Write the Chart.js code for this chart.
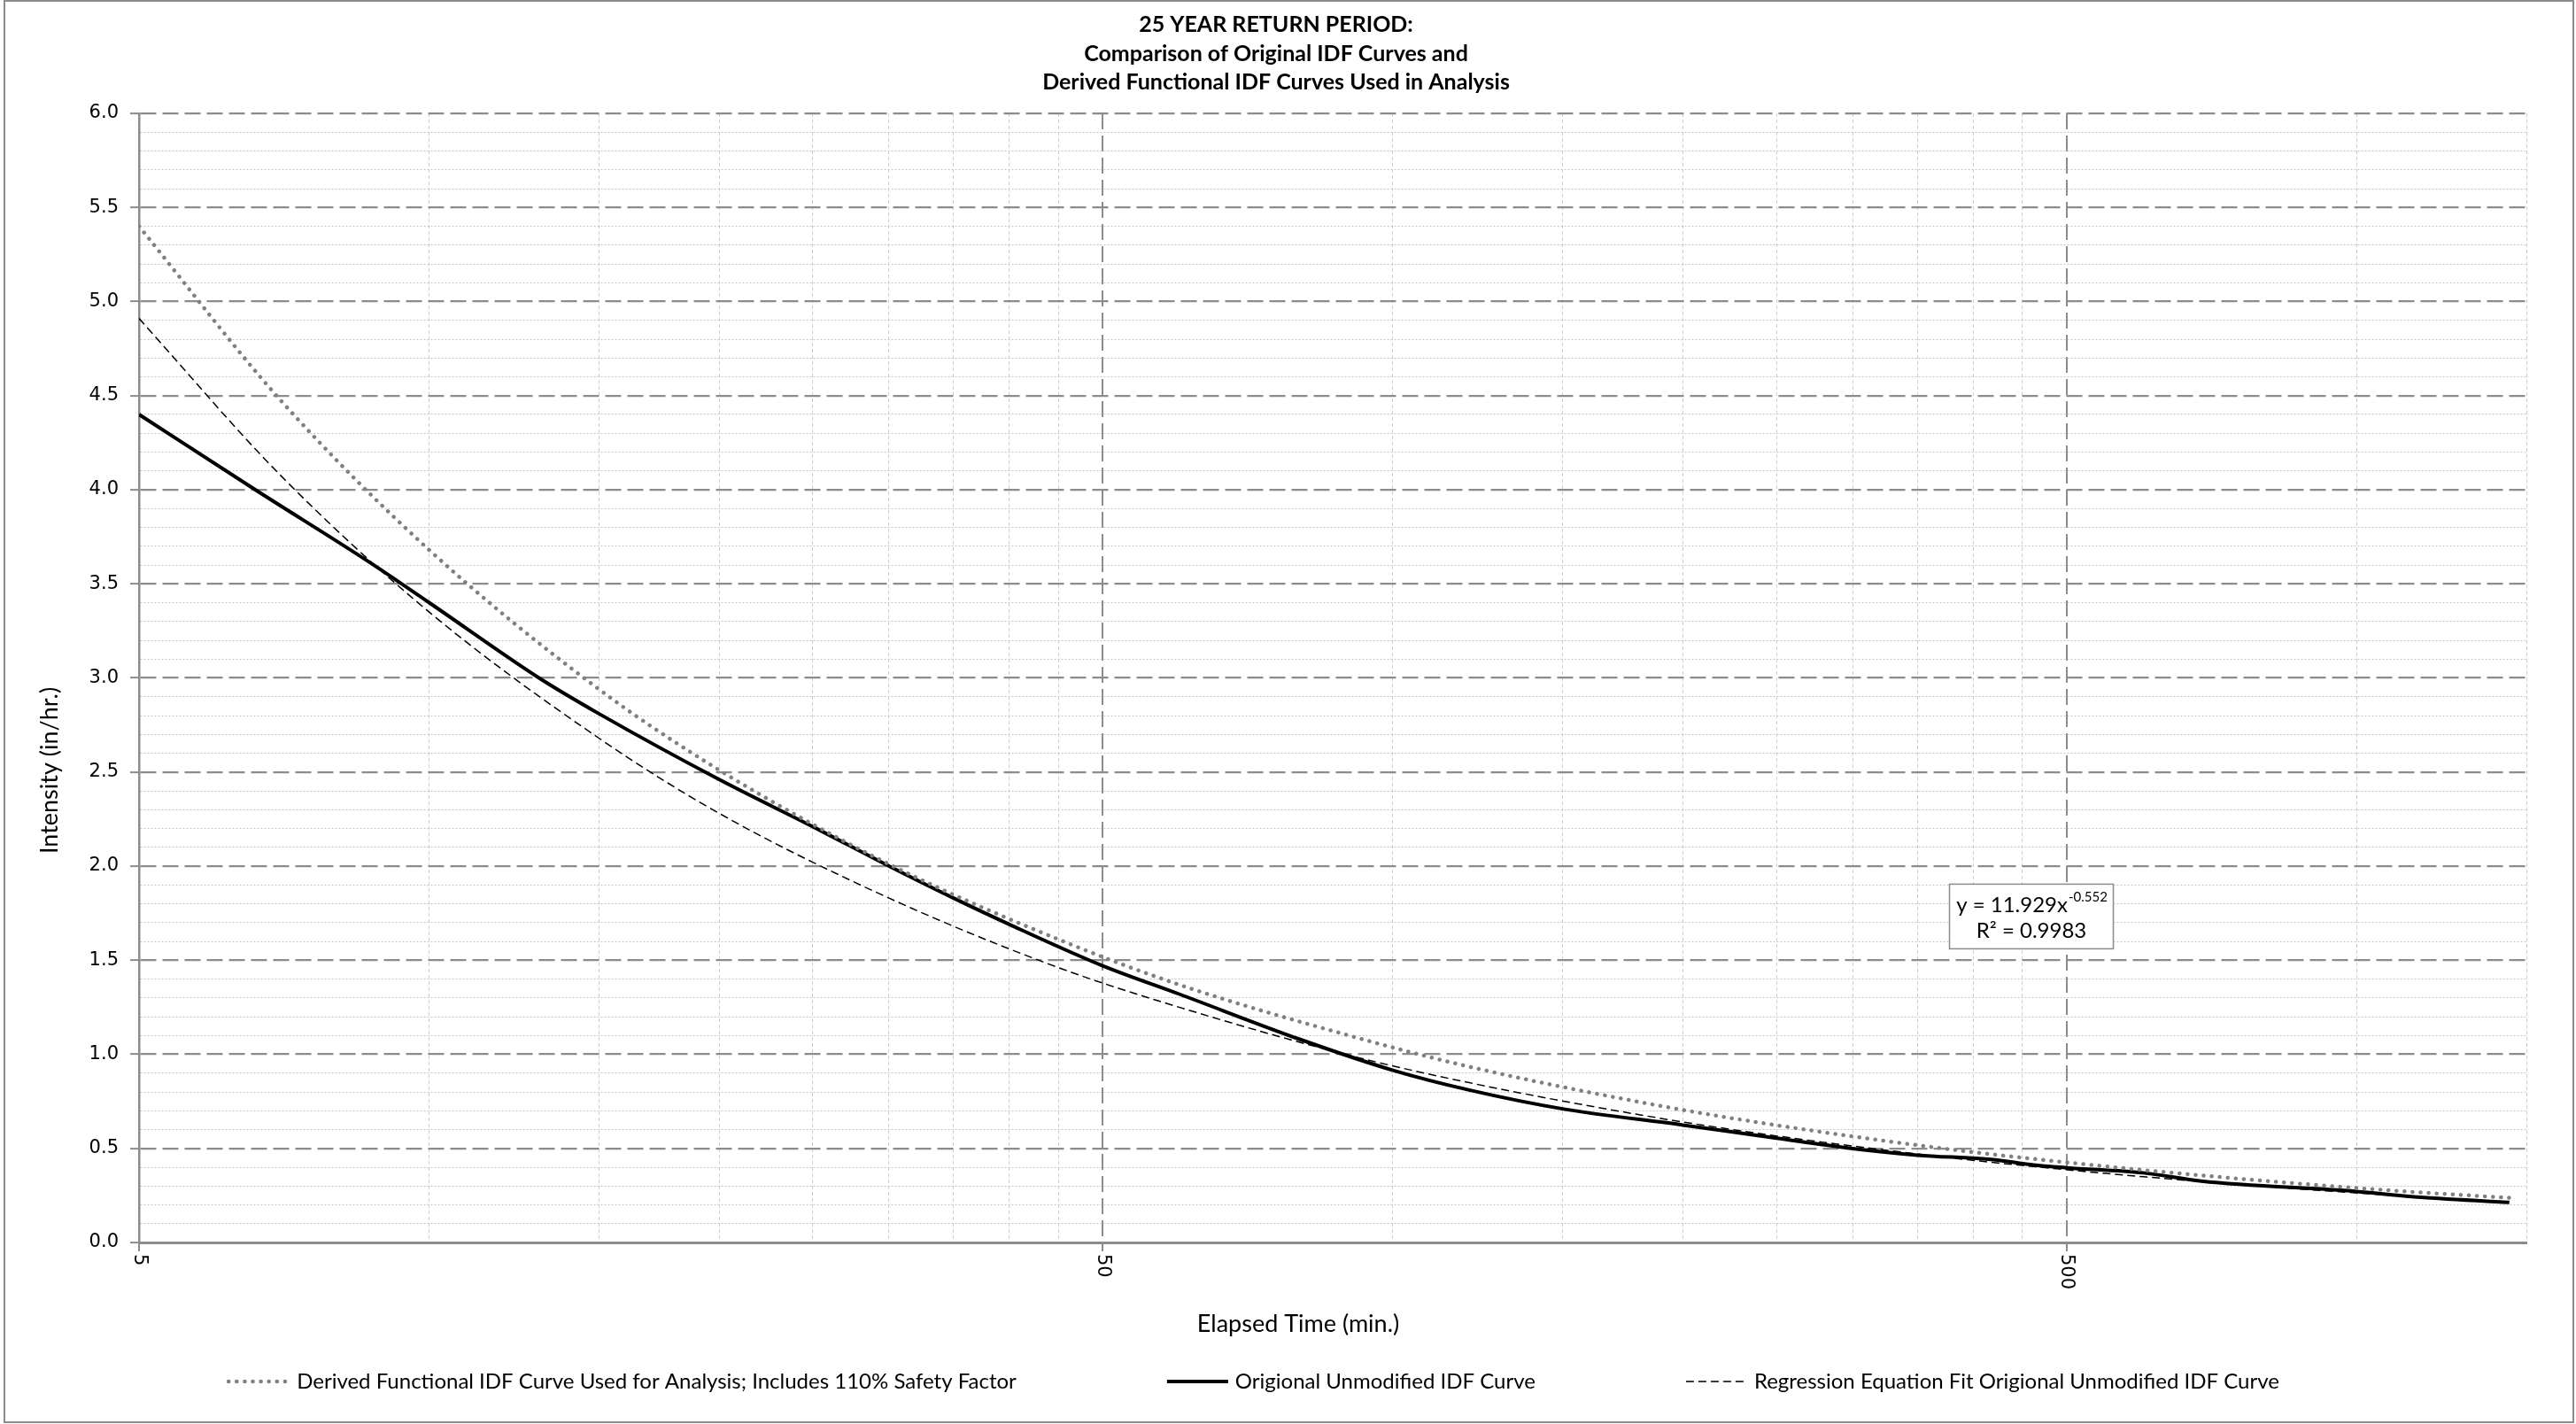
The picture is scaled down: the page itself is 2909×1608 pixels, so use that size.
<!DOCTYPE html>
<html>
<head>
<meta charset="utf-8">
<title>25 Year Return Period IDF Curves</title>
<script src="https://cdn.jsdelivr.net/npm/chart.js@4.4.1/dist/chart.umd.min.js"></script>
<style>
  html, body { margin: 0; padding: 0; background: #fff; }
  canvas { display: block; }
</style>
</head>
<body>
<canvas id="idf" width="2909" height="1608"></canvas>
<script>
// elapsed time (min.) for the smooth fitted curves
const fitTimes = [5, 7, 10, 15, 20, 30, 45, 60, 90, 120, 180, 240, 360, 480, 720, 1080, 1440];
// intensity (in/hr.) - derived curve with 110% safety factor
const derivedIntensity = [5.40, 4.48, 3.68, 2.94, 2.51, 2.01, 1.61, 1.37, 1.10, 0.934, 0.747, 0.637, 0.509, 0.435, 0.348, 0.277, 0.237];
// intensity (in/hr.) - regression fit y = 11.929x^-0.552
const regressionIntensity = [4.91, 4.08, 3.35, 2.68, 2.28, 1.83, 1.46, 1.25, 0.995, 0.849, 0.679, 0.579, 0.463, 0.395, 0.316, 0.252, 0.215];

// original IDF table
const originalTimes = [5, 6.6, 8.7, 10, 13, 15, 20, 25, 30, 35, 40, 50, 60, 80, 100, 120, 150, 200, 250, 300, 350, 420, 460, 500, 600, 690, 1000, 1140, 1440];
const originalIntensity = [4.40, 4.00, 3.61, 3.40, 3.00, 2.81, 2.46, 2.21, 2.00, 1.83, 1.69, 1.47, 1.32, 1.08, 0.915, 0.81, 0.71, 0.624, 0.554, 0.499, 0.464, 0.440, 0.413, 0.397, 0.370, 0.326, 0.271, 0.244, 0.213];

// x axis: labelled decades and the in-between gridlines
const majorTimes = [5, 50, 500];
const minorTimes = [10, 15, 20, 25, 30, 35, 40, 45, 100, 150, 200, 250, 300, 350, 400, 450, 1000, 1500];

const titleLines = [
  "25 YEAR RETURN PERIOD:",
  "Comparison of Original IDF Curves and",
  "Derived Functional IDF Curves Used in Analysis",
];
const seriesLabels = [
  "Derived Functional IDF Curve Used for Analysis; Includes 110% Safety Factor",
  "Origional Unmodified IDF Curve",
  "Regression Equation Fit Origional Unmodified IDF Curve",
];
const equationText = { main: "y = 11.929x", power: "-0.552", r2: "R\u00b2 = 0.9983" };

const FONT = "Lato, 'Open Sans', sans-serif";
const TICK_FONT = "'DejaVu Sans', Verdana, sans-serif";
const MAJOR = "#8c8c8c";

const toPoints = (xs, ys) => xs.map((x, i) => ({ x: x, y: ys[i] }));
const isHalf = (v) => Math.abs(v * 2 - Math.round(v * 2)) < 1e-6;
const isMajorTime = (v) => majorTimes.includes(v);

// titles, rotated x labels, trendline label, legend and outer frame
const decorations = {
  id: "decorations",
  beforeDraw(chart) {
    const ctx = chart.ctx;
    ctx.save();
    ctx.fillStyle = "#fff";
    ctx.fillRect(0, 0, chart.width, chart.height);
    ctx.restore();
  },
  afterDraw(chart) {
    const { ctx, chartArea } = chart;
    const xs = chart.scales.x;
    const ys = chart.scales.y;
    ctx.save();
    ctx.fillStyle = "#000";

    // x tick labels, reading top to bottom
    ctx.font = "21px " + TICK_FONT;
    ctx.textAlign = "left";
    ctx.textBaseline = "middle";
    majorTimes.forEach((v) => {
      ctx.save();
      ctx.translate(xs.getPixelForValue(v), chartArea.bottom + 13);
      ctx.rotate(Math.PI / 2);
      ctx.fillText(String(v), 0, 0);
      ctx.restore();
    });

    // axis titles
    ctx.textAlign = "center";
    ctx.font = "27px " + FONT;
    ctx.fillText("Elapsed Time (min.)", 1466, 1495);
    ctx.save();
    ctx.translate(56, 870);
    ctx.rotate(-Math.PI / 2);
    ctx.fillText("Intensity (in/hr.)", 0, 0);
    ctx.restore();

    // trendline equation box
    const bx = xs.getPixelForValue(378);
    const by = ys.getPixelForValue(1.904);
    const bw = 185, bh = 73;
    ctx.fillStyle = "#fff";
    ctx.fillRect(bx, by, bw, bh);
    ctx.strokeStyle = MAJOR;
    ctx.lineWidth = 1.5;
    ctx.strokeRect(bx, by, bw, bh);
    ctx.fillStyle = "#000";
    ctx.font = "24px " + FONT;
    const mainW = ctx.measureText(equationText.main).width;
    ctx.font = "15px " + FONT;
    const powW = ctx.measureText(equationText.power).width;
    let tx = bx + bw / 2 - (mainW + powW) / 2;
    ctx.textAlign = "left";
    ctx.font = "24px " + FONT;
    ctx.fillText(equationText.main, tx, by + 24);
    ctx.font = "15px " + FONT;
    ctx.fillText(equationText.power, tx + mainW + 1, by + 15);
    ctx.textAlign = "center";
    ctx.font = "24px " + FONT;
    ctx.fillText(equationText.r2, bx + bw / 2, by + 53);

    // legend
    const sample = 69, gap = 8, spacing = 170, ly = 1560;
    ctx.font = "24px " + FONT;
    const items = chart.data.datasets.map((ds) => ({ ds: ds, w: sample + gap + ctx.measureText(ds.label).width }));
    const total = items.reduce((s, it) => s + it.w, 0) + spacing * (items.length - 1);
    let lx = 1416 - total / 2;
    ctx.textAlign = "left";
    items.forEach((it) => {
      const ds = it.ds;
      ctx.save();
      ctx.strokeStyle = ds.borderColor;
      ctx.lineWidth = ds.borderWidth;
      ctx.lineCap = ds.borderCapStyle || "butt";
      ctx.setLineDash(ds.borderDash || []);
      ctx.beginPath();
      ctx.moveTo(lx, ly);
      ctx.lineTo(lx + sample, ly);
      ctx.stroke();
      ctx.restore();
      ctx.fillText(ds.label, lx + sample + gap, ly);
      lx += it.w + spacing;
    });

    // chart frame
    ctx.strokeStyle = MAJOR;
    ctx.lineWidth = 2;
    ctx.strokeRect(5, 1, chart.width - 8, chart.height - 3);
    ctx.restore();
  },
};

new Chart(document.getElementById("idf"), {
  type: "scatter",
  data: {
    datasets: [
      {
        label: seriesLabels[0],
        data: toPoints(fitTimes, derivedIntensity),
        showLine: true,
        borderColor: "#808080",
        borderWidth: 4.5,
        borderDash: [0.1, 9],
        borderCapStyle: "round",
        pointRadius: 0,
        cubicInterpolationMode: "monotone",
      },
      {
        label: seriesLabels[1],
        data: toPoints(originalTimes, originalIntensity),
        showLine: true,
        borderColor: "#000",
        borderWidth: 4,
        pointRadius: 0,
        cubicInterpolationMode: "monotone",
      },
      {
        label: seriesLabels[2],
        data: toPoints(fitTimes, regressionIntensity),
        showLine: true,
        borderColor: "#000",
        borderWidth: 1.5,
        borderDash: [9, 5],
        pointRadius: 0,
        cubicInterpolationMode: "monotone",
      },
    ],
  },
  options: {
    responsive: false,
    animation: false,
    events: [],
    layout: { padding: { left: 0, right: 27, top: 0, bottom: 0 } },
    plugins: {
      legend: { display: false },
      tooltip: { enabled: false },
      title: {
        display: true,
        text: titleLines,
        color: "#000",
        font: { family: FONT, size: 25, weight: "bold", lineHeight: "32.5px" },
        padding: { top: 12, bottom: 18.5 },
      },
    },
    scales: {
      x: {
        type: "logarithmic",
        min: 5,
        max: 1500,
        afterBuildTicks: (axis) => {
          axis.ticks = majorTimes.concat(minorTimes).sort((a, b) => a - b).map((v) => ({ value: v }));
        },
        afterFit: (axis) => { axis.height = 205; },
        ticks: { display: false, autoSkip: false },
        grid: {
          color: (c) => (isMajorTime(c.tick.value) ? MAJOR : "#cfcfcf"),
          lineWidth: (c) => (isMajorTime(c.tick.value) ? 2 : 1),
          tickColor: (c) => (isMajorTime(c.tick.value) ? MAJOR : "rgba(0,0,0,0)"),
          tickLength: 10,
          tickWidth: 2,
        },
        border: {
          color: MAJOR,
          width: 3,
          dash: (c) => (c.tick && isMajorTime(c.tick.value) ? [18, 7] : [4, 3]),
        },
      },
      y: {
        type: "linear",
        min: 0,
        max: 6,
        afterFit: (axis) => { axis.width = 157; },
        ticks: {
          stepSize: 0.1,
          autoSkip: false,
          padding: 13,
          color: "#000",
          font: { family: TICK_FONT, size: 21 },
          callback: (v) => (isHalf(v) ? Number(v).toFixed(1) : ""),
        },
        grid: {
          color: (c) => (isHalf(c.tick.value) ? MAJOR : "#c4c4c4"),
          lineWidth: (c) => (isHalf(c.tick.value) ? 2.25 : 1),
          tickColor: (c) => (isHalf(c.tick.value) ? MAJOR : "rgba(0,0,0,0)"),
          tickLength: 10,
          tickWidth: 2,
        },
        border: {
          color: MAJOR,
          width: 2.5,
          dash: (c) => (c.tick && isHalf(c.tick.value) ? [18, 7] : [2, 2]),
        },
      },
      // keeps the plot clear of the right-hand frame
      spacer: {
        type: "linear",
        position: "right",
        afterFit: (axis) => { axis.width = 29; },
        ticks: { display: false },
        grid: { display: false, drawTicks: false },
        border: { display: false },
      },
    },
  },
  plugins: [decorations],
});
</script>
</body>
</html>
